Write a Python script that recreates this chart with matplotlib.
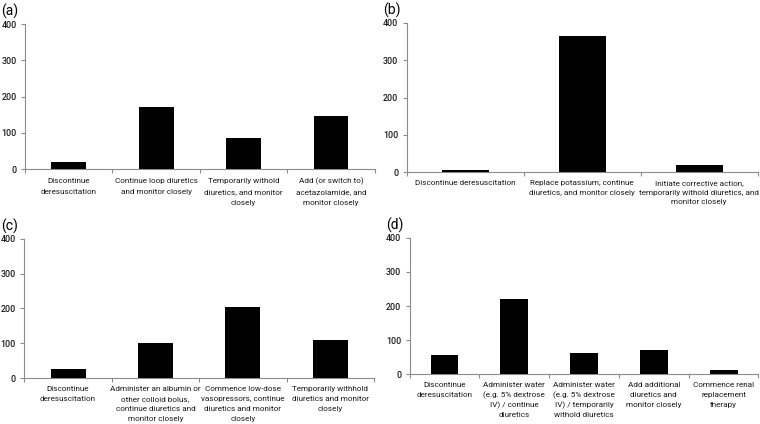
import matplotlib
matplotlib.use("Agg")
import matplotlib.pyplot as plt
import matplotlib.transforms as mtransforms
import numpy as np

plt.rcParams['font.family'] = ['Roboto', 'DejaVu Sans']

labels_a = ["Discontinue\nderesuscitation",
            "Continue loop diuretics\nand monitor closely",
            "Temporarily withold\ndiuretics, and monitor\nclosely",
            "Add (or switch to)\nacetazolamide, and\nmonitor closely"]
values_a = [19, 172, 85, 147]

labels_b = ["Discontinue deresuscitation",
            "Replace potassium, continue\ndiuretics, and monitor closely",
            "Initiate corrective action,\ntemporarily withold diuretics, and\nmonitor closely"]
values_b = [5, 365, 19]

labels_c = ["Discontinue\nderesuscitation",
            "Administer an albumin or\nother colloid bolus,\ncontinue diuretics and\nmonitor closely",
            "Commence low-dose\nvasopressors, continue\ndiuretics and monitor\nclosely",
            "Temporarily withhold\ndiuretics and monitor\nclosely"]
values_c = [26, 100, 205, 110]

labels_d = ["Discontinue\nderesuscitation",
            "Administer water\n(e.g. 5% dextrose\nIV) / continue\ndiuretics",
            "Administer water\n(e.g. 5% dextrose\nIV) / temporarily\nwithold diuretics",
            "Add additional\ndiuretics and\nmonitor closely",
            "Commence renal\nreplacement\ntherapy"]
values_d = [57, 220, 62, 70, 13]

yticks = [0, 100, 200, 300, 400]
panel_tags = ["(a)", "(b)", "(c)", "(d)"]

fig = plt.figure(figsize=(7.6, 4.24), dpi=100)

positions = [
    [0.033, 0.601, 0.460, 0.342],
    [0.535, 0.594, 0.462, 0.352],
    [0.032, 0.108, 0.460, 0.329],
    [0.539, 0.117, 0.459, 0.322],
]
first_baseline_px = [14.0, 13.0, 12.5, 12.5]
line_step_px = [11.0, 9.4, 10.0, 10.0]
datasets = [(labels_a, values_a), (labels_b, values_b),
            (labels_c, values_c), (labels_d, values_d)]
axis_color = "#8c8c8c"
text_color = "#1a1a1a"

for pos, (labs, vals), tag, b0, step in zip(positions, datasets, panel_tags,
                                             first_baseline_px, line_step_px):
    ax = fig.add_axes(pos)
    x = np.arange(len(vals))
    ax.bar(x, vals, width=0.4, color="black", zorder=3)
    ax.set_xlim(-0.5, len(vals) - 0.5)
    ax.set_ylim(0, 400)
    ax.set_yticks(yticks)
    ax.set_yticklabels([str(t) for t in yticks], fontsize=6.4, color=text_color,
                       fontweight='medium')
    ax.set_xticks([])
    ax.set_xticks(np.arange(len(vals) + 1) - 0.5, minor=True)
    ax.tick_params(axis='x', which='minor', length=3, color=axis_color, width=0.8)
    ax.tick_params(axis='y', length=3, color=axis_color, width=0.8, pad=3)
    for s in ['top', 'right']:
        ax.spines[s].set_visible(False)
    for s in ['left', 'bottom']:
        ax.spines[s].set_color(axis_color)
        ax.spines[s].set_linewidth(0.8)
    base = ax.get_xaxis_transform()
    for xi, lab in zip(x, labs):
        for i, line in enumerate(lab.split("\n")):
            dy = (b0 + i * step) / fig.dpi
            tr = base + mtransforms.ScaledTranslation(0, -dy, fig.dpi_scale_trans)
            ax.text(xi, 0, line, transform=tr, ha='center', va='baseline',
                    fontsize=5.9, color=text_color, clip_on=False)
    fig.text(pos[0] - 0.031, pos[1] + pos[3] + 0.012, tag, fontsize=10,
             ha='left', va='bottom')

fig.savefig("out.png", dpi=100)
